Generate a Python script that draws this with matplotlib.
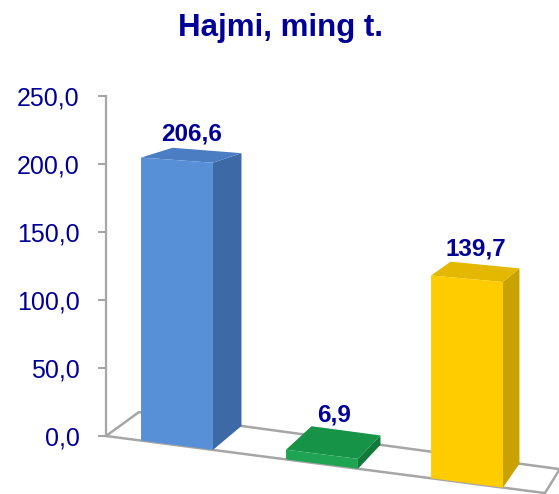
import matplotlib.pyplot as plt
from matplotlib.patches import Polygon

# datos
categorias = ["A", "B", "C"]
valores = [206.6, 6.9, 139.7]
etiquetas = ["206,6", "6,9", "139,7"]
ticks = [0, 50, 100, 150, 200, 250]
tick_labels = [f"{t:.1f}".replace(".", ",") for t in ticks]
titulo = "Hajmi, ming t."

# colores (frente, lado, tapa)
colores = [("#5790D6", "#3D69A6", "#4A7DC2"),
           ("#1EA452", "#117A3B", "#169346"),
           ("#FFCC00", "#C9A100", "#E4B700")]
AZUL = "#000096"
GRIS = "#A6A6A6"

plt.rcParams["font.family"] = ["Liberation Sans", "DejaVu Sans"]

W, H = 559, 494
fig = plt.figure(figsize=(W/100, H/100), dpi=100)

# geometria pseudo 3D (px por unidad)
PX_X = 145.0
PX_V = 1.36
X0 = (106 - 177) / PX_X          # posicion del eje
X_FIN = (545 - 177) / PX_X       # fin del piso
C = 0.13 * PX_X / PX_V           # inclinacion de la base
MEDIO = 0.248                    # media anchura de barra

def dx(x):
    return (30 - 6*x) / PX_X

def dy(v):
    return 17.6 - 0.05*v

def proj(x, v, d):
    v = v * (1 + 0.03*(x - X0))  # un poco de perspectiva
    return (x + d*dx(x), v - C*(x - X0) + d*dy(v))

ax = fig.add_axes([106/W, 0.88/H, 453/W, 417.5/H])
ax.set_xlim(X0, (559 - 177) / PX_X)
ax.set_ylim(-42, 265)
ax.patch.set_visible(False)
for s in ["top", "right", "bottom"]:
    ax.spines[s].set_visible(False)
ax.spines["left"].set_bounds(0, 250)
ax.spines["left"].set_color(GRIS)
ax.spines["left"].set_linewidth(1.6)
ax.set_xticks([])
ax.set_yticks(ticks)
ax.set_yticklabels(tick_labels)
ax.tick_params(axis="y", colors=GRIS, labelcolor=AZUL, labelsize=18,
               length=6, width=1.5, pad=13)

# piso
piso = [proj(X0, 0, 0), proj(X_FIN, 0, 0), proj(X_FIN, 0, 1), proj(X0, 0, 1)]
ax.add_patch(Polygon(piso, closed=True, facecolor="white", edgecolor=GRIS,
                     lw=1.8, clip_on=False, zorder=1))

for i, v in enumerate(valores):
    fr, la, ta = colores[i]
    xl, xr = i - MEDIO, i + MEDIO
    frente = [proj(xl, 0, 0), proj(xr, 0, 0), proj(xr, v, 0), proj(xl, v, 0)]
    lado = [proj(xr, 0, 0), proj(xr, 0, 1), proj(xr, v, 1), proj(xr, v, 0)]
    tapa = [proj(xl, v, 0), proj(xr, v, 0), proj(xr, v, 1), proj(xl, v, 1)]
    ax.add_patch(Polygon(lado, closed=True, facecolor=la, edgecolor="none",
                         clip_on=False, zorder=2))
    ax.add_patch(Polygon(tapa, closed=True, facecolor=ta, edgecolor="none",
                         clip_on=False, zorder=2))
    ax.add_patch(Polygon(frente, closed=True, facecolor=fr, edgecolor="none",
                         clip_on=False, zorder=3))
    xa = proj(i, v, 0.5)[0]
    ya = proj(i, v, 1)[1]
    ax.annotate(etiquetas[i], xy=(xa, ya), xytext=(0, 7),
                textcoords="offset points", ha="center", va="baseline",
                fontsize=17.5, fontweight="bold", color=AZUL)

fig.text(280/W, 1 - 36/H, titulo, ha="center", va="baseline",
         fontsize=22.5, fontweight="bold", color=AZUL)

fig.savefig("out.png", dpi=100)
